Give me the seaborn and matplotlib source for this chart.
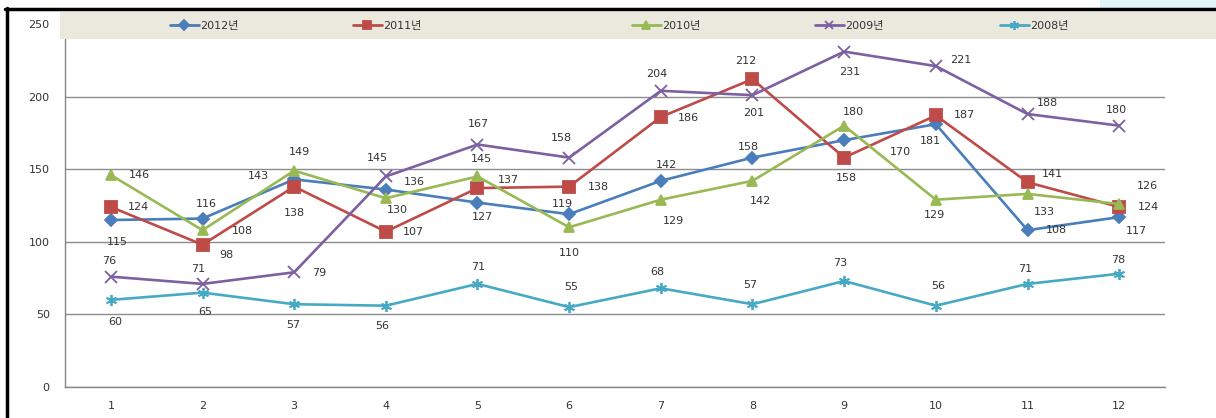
import matplotlib
matplotlib.use('Agg')
import seaborn as sns
import matplotlib.pyplot as plt
from matplotlib.lines import Line2D
from matplotlib.patches import Rectangle

# 데이터
months = list(range(1, 13))
y2012 = [115, 116, 143, 136, 127, 119, 142, 158, 170, 181, 108, 117]
y2011 = [124, 98, 138, 107, 137, 138, 186, 212, 158, 187, 141, 124]
y2010 = [146, 108, 149, 130, 145, 110, 129, 142, 180, 129, 133, 126]
y2009 = [76, 71, 79, 145, 167, 158, 204, 201, 231, 221, 188, 180]
y2008 = [60, 65, 57, 56, 71, 55, 68, 57, 73, 56, 71, 78]
names = ['2012년', '2011년', '2010년', '2009년', '2008년']

# 스타일
colors = ['#4A7EBB', '#BE4B48', '#98B954', '#7D60A0', '#46AAC5']
markers = ['D', 's', '^', 'x', (6, 2, 0)]
msizes = [6, 8, 7.5, 8, 8]

# 라벨 위치 (픽셀 오프셋)
offsets = [
    [(6, -22), (4, 15), (-36, 3), (28, 8), (5, -14), (-7, 10), (6, 16), (-4, 11), (56, -12), (-5, -17), (29, 0), (17, -14)],
    [(28, 0), (24, -10), (0, -26), (28, 0), (31, 8), (29, 0), (28, -1), (-7, 18), (2, -20), (29, 0), (25, 8), (29, 0)],
    [(29, 0), (40, -1), (5, 19), (11, -12), (4, 17), (0, -26), (13, -21), (8, -20), (9, 14), (-1, -15), (17, -18), (28, 18)],
    [(-2, 16), (-4, 15), (25, -1), (-8, 18), (1, 21), (-8, 20), (-4, 17), (1, -18), (6, -20), (25, 6), (20, 11), (-3, 16)],
    [(4, -22), (3, -19), (-1, -21), (-4, -20), (1, 17), (2, 20), (-4, 16), (-2, 19), (-4, 18), (2, 20), (-2, 15), (-1, 14)],
]

sns.set_style('white')
plt.rcParams['font.family'] = ['DejaVu Sans', 'Noto Sans CJK KR']

W, H = 1216, 418
fig = plt.figure(figsize=(W / 100, H / 100), dpi=100)
ax = fig.add_axes([65 / W, 1 - 387 / H, 1100 / W, 363 / H])

series = [y2012, y2011, y2010, y2009, y2008]
handles = []
for vals, c, m, ms, name, offs in zip(series, colors, markers, msizes, names, offsets):
    sns.lineplot(x=months, y=vals, ax=ax, color=c, marker=m, markersize=ms,
                 markeredgecolor=c, markeredgewidth=1.3, linewidth=1.9, legend=False)
    for mo, v, (dx, dy) in zip(months, vals, offs):
        ax.annotate(str(v), (mo, v), xytext=(dx, dy), textcoords='offset pixels',
                    ha='center', va='center', fontsize=8, color='#333333')
    handles.append(Line2D([], [], color=c, marker=m, markersize=ms * 0.8,
                          markeredgecolor=c, markeredgewidth=1.3, linewidth=2))

ax.set_xlim(0.5, 12.5)
ax.set_ylim(0, 250)
ax.set_yticks(range(0, 251, 50))
ax.set_xticks(months)
ax.set_xticks([m + 0.5 for m in range(0, 13)], minor=True)
ax.tick_params(axis='x', which='major', length=0, pad=10, labelsize=8, labelcolor='#333333')
ax.tick_params(axis='x', which='minor', length=5, direction='out', color='#868686')
ax.tick_params(axis='y', length=5, direction='out', color='#868686', pad=6,
               labelsize=8, labelcolor='#333333')
ax.yaxis.grid(True, color='#8c8c8c', linewidth=1)
ax.set_axisbelow(True)
ax.set_xlabel('')
ax.set_ylabel('')
for s in ['top', 'right']:
    ax.spines[s].set_visible(False)
for s in ['left', 'bottom']:
    ax.spines[s].set_color('#868686')
    ax.spines[s].set_linewidth(1)

# 범례 띠
fig.add_artist(Rectangle((60 / W, 1 - 39 / H), (W - 60) / W, 27 / H,
                         transform=fig.transFigure, facecolor='#EBE8DE',
                         edgecolor='none', zorder=4))
legend_x = [170, 353, 632, 815, 1000]
for h, name, lx in zip(handles, names, legend_x):
    leg = fig.legend(handles=[h], labels=[name], loc='center left',
                     bbox_to_anchor=(lx / W, 1 - 26 / H), frameon=False, fontsize=8,
                     handlelength=2.6, handletextpad=0.1, borderpad=0, borderaxespad=0)
    leg.set_zorder(6)
    for t in leg.get_texts():
        t.set_color('#333333')

# 외곽 테두리
fig.add_artist(Rectangle((1100 / W, 1 - 8 / H), 116 / W, 8 / H, transform=fig.transFigure,
                         facecolor='#E4F5F9', edgecolor='none', zorder=7))
fig.add_artist(Line2D([6.5 / W, 6.5 / W], [0, 1 - 8 / H], transform=fig.transFigure,
                      color='black', linewidth=2.5, zorder=8))
fig.add_artist(Line2D([5 / W, 1], [1 - 9 / H, 1 - 9 / H], transform=fig.transFigure,
                      color='black', linewidth=2.5, zorder=8))

plt.savefig('out.png', dpi=100)
